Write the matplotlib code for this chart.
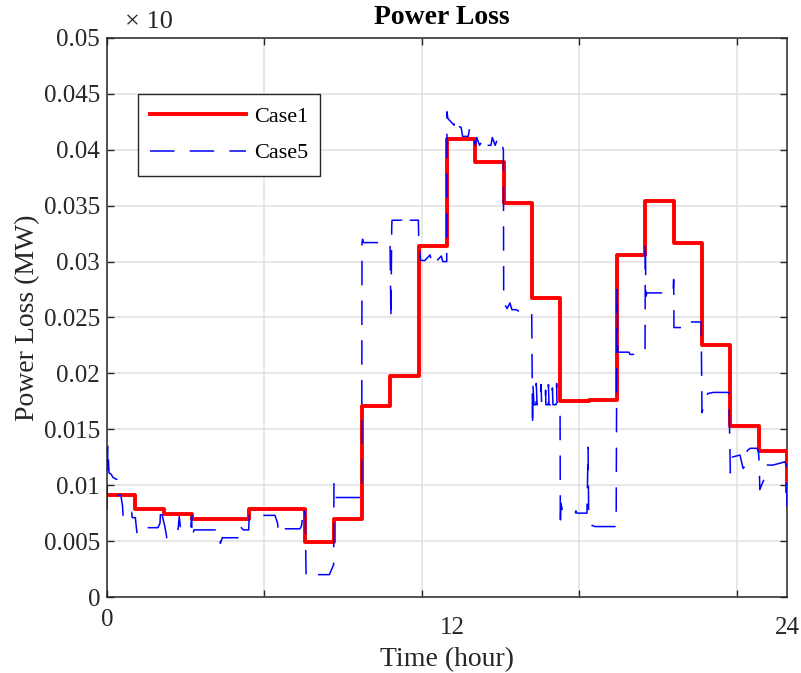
import matplotlib
matplotlib.use("Agg")
import matplotlib.pyplot as plt
import numpy as np

# ---- data ------------------------------------------------------------
# Case1: hourly losses (stairs, last value closes the final step at 24 h)
case1_hours = list(range(25))
case1_loss = [0.0091, 0.0079, 0.0074, 0.0070, 0.0070, 0.0079, 0.0079, 0.0049,
              0.0070, 0.0171, 0.0198, 0.0314, 0.0410, 0.0389, 0.0352, 0.0267,
              0.0175, 0.0176, 0.0306, 0.0354, 0.0317, 0.0225, 0.0153, 0.0131,
              0.0095]

# Case5: finer time resolution
case5_time = [
    0.00, 0.03, 0.07, 0.14, 0.21, 0.35, 0.36, 0.49, 0.55, 0.57, 0.70, 0.72, 0.87, 0.89, 1.00,
    1.02, 1.06, 1.10, 1.80, 1.87, 1.90, 1.93, 2.05, 2.11, 2.22,
    2.50, 2.55, 2.60, 2.95, 2.99, 3.00, 3.07,
    3.21, 3.99, 4.00, 4.07, 4.34, 4.66, 4.67, 4.81,
    5.00, 5.02, 5.28, 5.30, 5.50, 5.93,
    6.02, 6.05, 6.10, 6.81, 6.87, 6.93, 7.00,
    7.02, 7.03, 7.10, 7.85, 8.00,
    8.01, 8.05, 8.99,
    9.00, 9.02, 9.05, 9.99,
    10.02, 10.05, 10.06, 10.41, 10.46, 10.69, 10.70, 10.99,
    11.00, 11.07, 11.22, 11.40, 11.45, 11.60, 11.65, 11.80, 11.85, 11.99,
    12.00, 12.03, 12.25, 12.28, 12.30, 12.50, 12.55, 12.75, 12.80, 12.93,
    13.00, 13.05, 13.15, 13.30, 13.40, 13.55, 13.60, 13.70, 13.80, 13.87, 13.99,
    14.00, 14.01, 14.12, 14.22, 14.29, 14.44, 14.58, 14.72, 14.86, 14.99,
    15.02, 15.03, 15.07, 15.14, 15.15, 15.18, 15.28, 15.32, 15.34, 15.46, 15.48,
    15.49, 15.57, 15.58, 15.60, 15.71, 15.72, 15.74, 15.85, 15.87, 15.88, 15.99,
    16.00, 16.02, 16.09, 16.17, 16.52, 16.55, 16.59, 16.94, 16.98, 17.00,
    17.05, 17.12, 17.22, 17.65, 17.97,
    18.00, 18.03, 18.42, 18.46, 18.95, 18.99,
    19.00, 19.02, 19.06, 19.66, 19.98,
    20.00, 20.01, 20.12, 20.50, 20.51, 20.97,
    21.00, 21.10, 21.20, 21.40, 21.95,
    22.00, 22.05, 22.34, 22.45, 22.55, 22.60, 22.70, 22.93, 22.99,
    23.02, 23.04, 23.10, 23.22, 23.28, 23.50, 23.80, 23.93, 23.97, 24.00]
case5_loss = [
    0.0078, 0.0136, 0.0111, 0.0110, 0.0107, 0.0105, 0.0091, 0.0091, 0.0081, 0.0071, 0.0071, 0.0076, 0.0076, 0.0071, 0.0071,
    0.0066, 0.0057, 0.0062, 0.0062, 0.0066, 0.0081, 0.0075, 0.0062, 0.0053, 0.0057,
    0.0058, 0.0072, 0.0060, 0.0060, 0.0073, 0.0053, 0.0060,
    0.0060, 0.0060, 0.0048, 0.0053, 0.0053, 0.0053, 0.0064, 0.0060,
    0.0060, 0.0073, 0.0073, 0.0071, 0.0073, 0.0073,
    0.0066, 0.0057, 0.0061, 0.0061, 0.0064, 0.0080, 0.0072,
    0.0029, 0.0018, 0.0020, 0.0020, 0.0029,
    0.0102, 0.0089, 0.0089,
    0.0317, 0.0320, 0.0317, 0.0317,
    0.0248, 0.0332, 0.0337, 0.0337, 0.0333, 0.0333, 0.0337, 0.0337,
    0.0322, 0.0301, 0.0301, 0.0306, 0.0301, 0.0306, 0.0301, 0.0305, 0.0300, 0.0300,
    0.0434, 0.0428, 0.0422, 0.0428, 0.0422, 0.0420, 0.0412, 0.0412, 0.0420, 0.0411,
    0.0404, 0.0411, 0.0404, 0.0411, 0.0404, 0.0404, 0.0411, 0.0404, 0.0411, 0.0411, 0.0400,
    0.0275, 0.0263, 0.0258, 0.0263, 0.0257, 0.0257, 0.0255, 0.0257, 0.0255, 0.0254,
    0.0152, 0.0191, 0.0172, 0.0172, 0.0191, 0.0172, 0.0172, 0.0190, 0.0172, 0.0172, 0.0185,
    0.0172, 0.0172, 0.0190, 0.0172, 0.0172, 0.0187, 0.0172, 0.0172, 0.0191, 0.0174, 0.0174,
    0.0062, 0.0084, 0.0075, 0.0075, 0.0075, 0.0077, 0.0075, 0.0075, 0.0134, 0.0075,
    0.0070, 0.0064, 0.0063, 0.0063, 0.0063,
    0.0275, 0.0219, 0.0219, 0.0217, 0.0217, 0.0220,
    0.0319, 0.0269, 0.0272, 0.0272, 0.0272,
    0.0284, 0.0241, 0.0241, 0.0241, 0.0246, 0.0246,
    0.0165, 0.0174, 0.0182, 0.0183, 0.0183,
    0.0111, 0.0125, 0.0127, 0.0115, 0.0118, 0.0131, 0.0133, 0.0133, 0.0131,
    0.0120, 0.0096, 0.0100, 0.0107, 0.0118, 0.0118, 0.0120, 0.0121, 0.0118, 0.0080]

series_names = ["Case1", "Case5"]
ytick_values = [0, 0.005, 0.01, 0.015, 0.02, 0.025, 0.03, 0.035, 0.04, 0.045, 0.05]
ytick_labels = ["0", "0.005", "0.01", "0.015", "0.02", "0.025", "0.03",
                "0.035", "0.04", "0.045", "0.05"]
xtick_labels = ["0", "12", "24"]
xtick_label_pos = [0, 12.2, 24]

# ---- style -----------------------------------------------------------
plt.rcParams["font.family"] = ["Liberation Serif", "DejaVu Serif"]
axis_col = "#262626"

W, H = 801, 673
fig = plt.figure(figsize=(W / 100, H / 100), dpi=100)
ax = fig.add_axes([107 / W, 1 - 597 / H, 680 / W, 559 / H])

ax.plot(case1_hours, case1_loss, color="#ff0000", lw=2.8,
        drawstyle="steps-post", label=series_names[0], zorder=3)
ax.plot(case5_time, case5_loss, color="#0000ff", lw=1.1,
        dashes=(16, 10), label=series_names[1], zorder=4)

ax.set_xlim(0, 24)
ax.set_ylim(0, 0.05)

# grid ticks sit on the underlying sample axis (every 500 of 2160 samples)
grid_x = [k * 500 * 24 / 2160 for k in range(5)]
ax.set_xticks(grid_x)
ax.set_xticklabels([""] * len(grid_x))
ax.set_yticks(ytick_values)
ax.set_yticklabels(ytick_labels)

ax.grid(True, color="#e0e0e0", lw=1.1)
ax.set_axisbelow(True)
ax.tick_params(direction="in", length=5, width=1.0, colors=axis_col,
               labelsize=18, top=True, right=True, pad=5)
for s in ax.spines.values():
    s.set_color(axis_col)
    s.set_linewidth(1.1)

for lab, xv in zip(xtick_labels, xtick_label_pos):
    yoff = -0.041 if lab == "0" else -0.055
    ax.text(xv, yoff, lab, transform=ax.get_xaxis_transform(),
            ha="center", va="center", fontsize=18, color=axis_col)

ax.set_xlabel("Time (hour)", fontsize=20, color=axis_col)
ax.xaxis.set_label_coords(0.5, (597 - 660) / 559)
ax.xaxis.label.set_va("center")
ax.set_ylabel("Power Loss (MW)", fontsize=20, color=axis_col)
ax.yaxis.set_label_coords((28 - 107) / 680, 0.5)
ax.yaxis.label.set_va("center")

fig.text(442 / W, 1 - 17 / H, "Power Loss", fontsize=20, fontweight="bold",
         color="black", ha="center", va="center")

fig.text(125 / W, 1 - 22 / H, "\u00d7 10", fontsize=19, color=axis_col,
         ha="left", va="center")

leg = ax.legend(loc="upper left", bbox_to_anchor=((138 - 107) / 680, (597 - 94) / 559),
                borderaxespad=0, fontsize=16, handlelength=4.3, handletextpad=0.36,
                borderpad=0.55, labelspacing=0.72, fancybox=False, framealpha=1)
leg.get_frame().set_edgecolor(axis_col)
leg.get_frame().set_linewidth(1.0)
for t in leg.get_texts():
    t.set_color("black")

fig.savefig("out.png", dpi=100)
